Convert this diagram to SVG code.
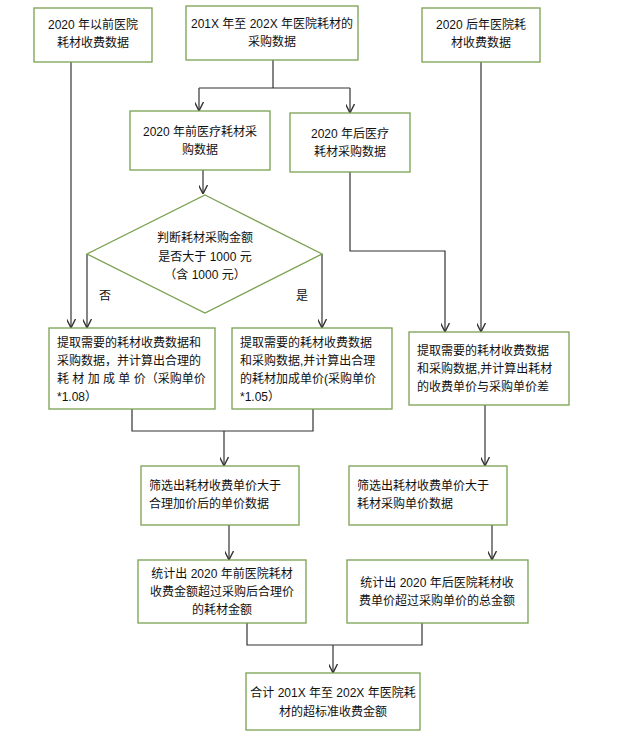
<svg xmlns="http://www.w3.org/2000/svg" width="624" height="736" viewBox="0 0 624 736">
<style>
.b{fill:#fff;stroke:#7aa150;stroke-width:1.3}
.t{font-family:"Liberation Sans","Noto Sans CJK SC",sans-serif;font-size:12px;fill:#111}
.c{text-anchor:middle}
.l{fill:none;stroke:#333;stroke-width:1.2}
</style>
<defs><marker id="a" viewBox="0 0 10 10" refX="9" refY="5" markerWidth="9" markerHeight="9" orient="auto" markerUnits="userSpaceOnUse"><path d="M0,0 L10,5 L0,10" fill="none" stroke="#333" stroke-width="1.5"/></marker></defs>
<rect width="624" height="736" fill="#fff"/>
<g id="connectors" class="l">
<polyline points="273,60 273,88"/>
<polyline points="199,88 350,88"/>
<polyline points="199,88 199,110" marker-end="url(#a)"/>
<polyline points="350,88 350,112" marker-end="url(#a)"/>
<polyline points="203,170 203,193" marker-end="url(#a)"/>
<polyline points="71,62 71,327" marker-end="url(#a)"/>
<polyline points="87,254 87,327" marker-end="url(#a)"/>
<polyline points="322,254 322,327" marker-end="url(#a)"/>
<polyline points="481,62 481,331" marker-end="url(#a)"/>
<polyline points="350,172 350,251 445,251 445,331" marker-end="url(#a)"/>
<polyline points="132,409 132,431 313,431 313,409"/>
<polyline points="224,431 224,465" marker-end="url(#a)"/>
<polyline points="485,405 485,465" marker-end="url(#a)"/>
<polyline points="229,525 229,559" marker-end="url(#a)"/>
<polyline points="492,525 492,559" marker-end="url(#a)"/>
<polyline points="247,623 247,645 422,645 422,623"/>
<polyline points="333,645 333,672" marker-end="url(#a)"/>
</g>
<g id="nA"><rect class="b" x="34" y="8" width="118" height="54"/><text class="t c" x="93" y="29">2020 年以前医院</text><text class="t c" x="93" y="47">耗材收费数据</text></g>
<g id="nB"><rect class="b" x="186" y="6" width="172" height="54"/><text class="t c" x="272" y="28">201X 年至 202X 年医院耗材的</text><text class="t c" x="272" y="46">采购数据</text></g>
<g id="nC"><rect class="b" x="422" y="8" width="118" height="54"/><text class="t c" x="481" y="29">2020 后年医院耗</text><text class="t c" x="481" y="47">材收费数据</text></g>
<g id="nD"><rect class="b" x="130" y="111" width="140" height="59"/><text class="t c" x="200" y="136">2020 年前医疗耗材采</text><text class="t c" x="200" y="154">购数据</text></g>
<g id="nE"><rect class="b" x="290" y="113" width="120" height="59"/><text class="t c" x="350" y="138">2020 年后医疗</text><text class="t c" x="350" y="156">耗材采购数据</text></g>
<g id="nDia"><polygon class="b" points="205,195 322,254 205,313 87,254"/><text class="t c" x="205" y="242">判断耗材采购金额</text><text class="t c" x="205" y="261">是否大于 1000 元</text><text class="t c" x="205" y="279" font-size="11">（含 1000 元）</text></g>
<text class="t" x="99" y="300">否</text>
<text class="t" x="296" y="300">是</text>
<g id="n1"><rect class="b" x="49" y="328" width="166" height="81"/><text class="t" x="57" y="347">提取需要的耗材收费数据和</text><text class="t" x="57" y="365">采购数据，并计算出合理的</text><text class="t" x="57" y="383">耗 材 加 成 单 价（采购单价</text><text class="t" x="57" y="401" font-size="11">*1.08）</text></g>
<g id="n2"><rect class="b" x="232" y="328" width="160" height="81"/><text class="t" x="240" y="347">提取需要的耗材收费数据</text><text class="t" x="240" y="365">和采购数据,并计算出合理</text><text class="t" x="240" y="383">的耗材加成单价(采购单价</text><text class="t" x="240" y="401" font-size="11">*1.05）</text></g>
<g id="n3"><rect class="b" x="409" y="332" width="160" height="73"/><text class="t" x="417" y="355">提取需要的耗材收费数据</text><text class="t" x="417" y="373">和采购数据,并计算出耗材</text><text class="t" x="417" y="391">的收费单价与采购单价差</text></g>
<g id="n4"><rect class="b" x="141" y="466" width="158" height="59"/><text class="t" x="149" y="490">筛选出耗材收费单价大于</text><text class="t" x="149" y="508">合理加价后的单价数据</text></g>
<g id="n5"><rect class="b" x="349" y="466" width="158" height="59"/><text class="t" x="357" y="490">筛选出耗材收费单价大于</text><text class="t" x="357" y="508">耗材采购单价数据</text></g>
<g id="n6"><rect class="b" x="138" y="560" width="168" height="63"/><text class="t c" x="222" y="578">统计出 2020 年前医院耗材</text><text class="t c" x="222" y="596">收费金额超过采购后合理价</text><text class="t c" x="222" y="614">的耗材金额</text></g>
<g id="n7"><rect class="b" x="347" y="560" width="181" height="63"/><text class="t c" x="437" y="587">统计出 2020 年后医院耗材收</text><text class="t c" x="437" y="605">费单价超过采购单价的总金额</text></g>
<g id="n8"><rect class="b" x="246" y="673" width="174" height="57"/><text class="t c" x="333" y="697">合计 201X 年至 202X 年医院耗</text><text class="t c" x="333" y="716">材的超标准收费金额</text></g>
</svg>
